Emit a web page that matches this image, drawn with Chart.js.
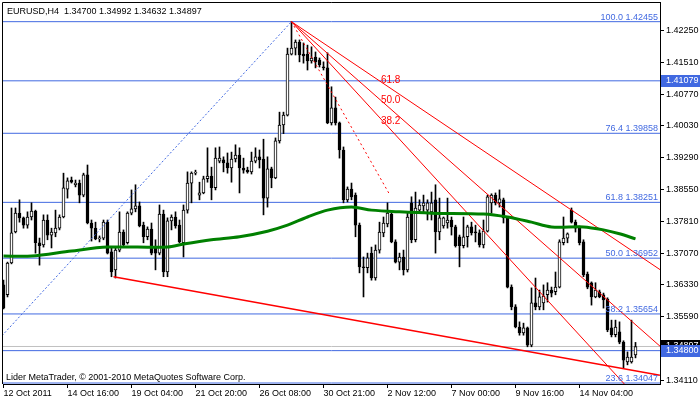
<!DOCTYPE html>
<html>
<head>
<meta charset="utf-8">
<script src="https://cdn.jsdelivr.net/npm/chart.js@4.4.1/dist/chart.umd.min.js"></script>
<style>
  html, body { margin: 0; padding: 0; background: #fff; }
  #c { display: block; }
</style>
</head>
<body>
<canvas id="c" width="700" height="402"></canvas>
<script>
// EURUSD H4 candles (bar index 0 = 12 Oct 2011 00:00)
var opens = [1.3633,1.3610,1.3684,1.3756,1.3800,1.3789,1.3772,1.3791,1.3805,1.3731,
  1.3726,1.3784,1.3749,1.3754,1.3765,1.3791,1.3856,1.3877,1.3866,1.3870,
  1.3842,1.3889,1.3777,1.3765,1.3740,1.3742,1.3779,1.3710,1.3668,1.3714,
  1.3756,1.3731,1.3800,1.3810,1.3817,1.3772,1.3745,1.3763,1.3721,1.3707,
  1.3798,1.3663,1.3782,1.3791,1.3772,1.3731,1.3807,1.3870,1.3893,1.3842,
  1.3847,1.3880,1.3886,1.3859,1.3921,1.3924,1.3917,1.3905,1.3926,1.3935,
  1.3905,1.3900,1.3896,1.3921,1.3931,1.3926,1.3835,1.3903,1.3882,1.3968,
  1.4005,1.4028,1.4170,1.4184,1.4198,1.4170,1.4170,1.4154,1.4163,1.4156,
  1.4140,1.4138,1.4010,1.4045,1.4010,1.3947,1.3831,1.3856,1.3842,1.3772,
  1.3675,1.3673,1.3707,1.3649,1.3714,1.3754,1.3775,1.3798,1.3733,1.3686,
  1.3698,1.3668,1.3824,1.3738,1.3807,1.3817,1.3807,1.3803,1.3831,1.3756,
  1.3770,1.3777,1.3784,1.3768,1.3745,1.3724,1.3745,1.3768,1.3756,1.3754,
  1.3726,1.3758,1.3824,1.3842,1.3824,1.3831,1.3789,1.3628,1.3582,1.3535,
  1.3521,1.3533,1.3493,1.3591,1.3582,1.3591,1.3610,1.3621,1.3617,1.3628,
  1.3731,1.3742,1.3807,1.3779,1.3765,1.3733,1.3658,1.3638,1.3605,1.3617,
  1.3610,1.3600,1.3533,1.3517,1.3524,1.3500,1.3454,1.3454,1.34700];
var highs = [1.3644,1.3686,1.3812,1.3812,1.3831,1.3791,1.3803,1.3824,1.3807,1.3742,
  1.3796,1.3796,1.3765,1.3807,1.3796,1.3893,1.3882,1.3884,1.3877,1.3877,
  1.3893,1.3912,1.3784,1.3779,1.3747,1.3784,1.3784,1.3719,1.3721,1.3803,
  1.3761,1.3803,1.3854,1.3866,1.3826,1.3779,1.3768,1.3777,1.3738,1.3819,
  1.3807,1.3789,1.3796,1.3803,1.3784,1.3819,1.3896,1.3896,1.3900,1.3872,
  1.3886,1.3952,1.3907,1.3952,1.3954,1.3931,1.3940,1.3942,1.3959,1.3952,
  1.3928,1.3907,1.3942,1.3952,1.3947,1.3972,1.3931,1.3907,1.3975,1.4035,
  1.4035,1.4184,1.42455,1.4203,1.4203,1.4196,1.4191,1.4187,1.4175,1.4161,
  1.4152,1.4173,1.4094,1.4070,1.4012,1.3954,1.3861,1.3870,1.3847,1.3777,
  1.3698,1.3707,1.3721,1.3726,1.3779,1.3791,1.3824,1.3803,1.3738,1.3707,
  1.3714,1.3800,1.3838,1.3849,1.3831,1.3842,1.3831,1.3849,1.3866,1.3835,
  1.3791,1.3835,1.3791,1.3772,1.3749,1.3791,1.3772,1.3779,1.3772,1.3761,
  1.3784,1.3842,1.3845,1.3847,1.3854,1.3835,1.3791,1.3633,1.3587,1.3547,
  1.3544,1.3535,1.3626,1.3649,1.3621,1.3633,1.3638,1.3628,1.3663,1.3738,
  1.3791,1.3754,1.3812,1.3784,1.3770,1.3738,1.3663,1.3640,1.3638,1.3621,
  1.3614,1.3603,1.3551,1.3551,1.3547,1.3503,1.3477,1.3551,1.34992];
var lows = [1.3577,1.3605,1.3682,1.3754,1.3779,1.3765,1.3765,1.3784,1.3707,1.3679,
  1.3721,1.3738,1.3719,1.3745,1.3761,1.3789,1.3835,1.3870,1.3861,1.3824,
  1.3838,1.3775,1.3735,1.3738,1.3733,1.3738,1.3705,1.3652,1.3649,1.3710,
  1.3721,1.3728,1.3796,1.3803,1.3768,1.3731,1.3738,1.3703,1.3668,1.3703,
  1.3652,1.3652,1.3761,1.3765,1.3731,1.3698,1.3800,1.3824,1.3889,1.3831,
  1.3845,1.3872,1.3831,1.3854,1.3917,1.3896,1.3893,1.3872,1.3919,1.3847,
  1.3893,1.3893,1.3891,1.3917,1.3905,1.3796,1.3814,1.3859,1.3880,1.3963,
  1.3985,1.4026,1.4168,1.4168,1.4152,1.4149,1.4133,1.4149,1.4138,1.4140,
  1.4133,1.4008,1.4005,1.4005,1.3928,1.3824,1.3826,1.3831,1.3745,1.3661,
  1.3605,1.3661,1.3644,1.3644,1.3707,1.3745,1.3768,1.3731,1.3684,1.3668,
  1.3656,1.3663,1.3731,1.3733,1.3800,1.3800,1.3784,1.3784,1.3707,1.3738,
  1.3765,1.3765,1.3749,1.3721,1.3675,1.3719,1.3721,1.3749,1.3733,1.3721,
  1.3719,1.3756,1.3800,1.3819,1.3814,1.3777,1.3626,1.3575,1.3533,1.3516,
  1.3516,1.3489,1.3489,1.3575,1.3575,1.3575,1.3593,1.3605,1.3610,1.3626,
  1.3726,1.3731,1.3777,1.3756,1.3726,1.3652,1.3624,1.3586,1.3603,1.3603,
  1.3579,1.3524,1.3512,1.3512,1.3496,1.3440,1.3447,1.3451,1.34632];
var closes = [1.3579,1.3684,1.3754,1.3800,1.3789,1.3772,1.3791,1.3805,1.3731,1.3724,
  1.3784,1.3749,1.3756,1.3765,1.3791,1.3859,1.3875,1.3872,1.3870,1.3842,
  1.3889,1.3777,1.3765,1.3740,1.3742,1.3779,1.3707,1.3663,1.3714,1.3756,
  1.3726,1.3800,1.3810,1.3817,1.3770,1.3745,1.3763,1.3707,1.3707,1.3798,
  1.3663,1.3782,1.3791,1.3770,1.3733,1.3807,1.3870,1.3893,1.3895,1.3847,
  1.3880,1.3886,1.3859,1.3928,1.3928,1.3917,1.3905,1.3926,1.3935,1.3905,
  1.3900,1.3896,1.3921,1.3931,1.3924,1.3835,1.3903,1.3882,1.3968,1.4005,
  1.4028,1.4170,1.4184,1.4198,1.4168,1.4166,1.4154,1.4161,1.4152,1.4145,
  1.4138,1.4010,1.4045,1.4010,1.3947,1.3831,1.3856,1.3838,1.3772,1.3675,
  1.3673,1.3696,1.3649,1.3714,1.3756,1.3777,1.3800,1.3733,1.3686,1.3698,
  1.3668,1.3791,1.3738,1.3812,1.3819,1.3824,1.3824,1.3824,1.3756,1.3789,
  1.3789,1.3784,1.3768,1.3724,1.3724,1.3745,1.3768,1.3754,1.3754,1.3726,
  1.3758,1.3838,1.3842,1.3824,1.3833,1.3789,1.3628,1.3582,1.3535,1.3521,
  1.3533,1.3493,1.3591,1.3582,1.3605,1.3607,1.3621,1.3614,1.3628,1.3733,
  1.3742,1.3752,1.3779,1.3765,1.3731,1.3656,1.3628,1.3605,1.3621,1.3605,
  1.3598,1.3528,1.3517,1.3535,1.3500,1.3458,1.3465,1.3465,1.34897];

var maIdx = [0, 7, 17, 26, 41, 45, 52, 59, 66, 71, 76, 81, 87, 92, 99, 107, 120, 126, 132, 137, 145, 150, 154, 158];
var maVal = [1.3700, 1.3700, 1.3712, 1.3721, 1.3721, 1.3728, 1.3738, 1.3745, 1.3758, 1.3772, 1.3791, 1.3807,
  1.3814, 1.3807, 1.3803, 1.3800, 1.3798, 1.3791, 1.3779, 1.3768, 1.3768, 1.3761, 1.3752, 1.3740];

// fibonacci retracement
var fibLevels = ['100.0', '76.4', '61.8', '50.0', '38.2', '23.6'];
var fibPrices = [1.42455, 1.39858, 1.38251, 1.36952, 1.35654, 1.34047];
var fibAnchorIdx = [-37, 72];
var fibAnchorPrice = [1.31450, 1.42455];

// fibonacci fan
var fanAnchorIdx = [72, 96.6];
var fanAnchorPrice = [1.42455, 1.38422];
var fanLevels = [61.8, 50.0, 38.2];

// lower trend line
var trendIdx = [27.5, 164.1];
var trendPrice = [1.3652, 1.3423];

// horizontal lines
var hLinePrices = [1.41079, 1.34800];
var bidPrice = 1.34897;

// axes
var yTicks = [1.42250, 1.41510, 1.40770, 1.40030, 1.39290, 1.38550, 1.37810, 1.37070, 1.36330, 1.35590, 1.34850, 1.34110];
var xTickIdx = [0, 16, 32, 48, 64, 80, 96, 112, 128, 144];
var xTickLabels = ['12 Oct 2011', '14 Oct 16:00', '19 Oct 04:00', '21 Oct 20:00', '26 Oct 08:00',
  '30 Oct 21:00', '2 Nov 12:00', '7 Nov 00:00', '9 Nov 16:00', '14 Nov 04:00'];

var X_MIN = -0.125, X_MAX = 164.125;
var Y_MIN = 1.34024, Y_MAX = 1.42913;
var FONT = "'Liberation Sans', Arial, sans-serif";
var BLUE = '#4169e1';
var RED = '#ff0000';

Chart.defaults.font.family = FONT;
Chart.defaults.font.size = 9;

var datasets = [];

datasets.push({
  type: 'line', order: 0,
  data: maIdx.map(function (x, k) { return { x: x, y: maVal[k] }; }),
  borderColor: '#008000', borderWidth: 3, pointRadius: 0, tension: 0.3
});

datasets.push({
  type: 'bar', order: 2, grouped: false,
  data: opens.map(function (o, i) { return { x: i, y: [o, closes[i]] }; }),
  backgroundColor: opens.map(function (o, i) { return closes[i] >= o ? '#ffffff' : '#000000'; }),
  borderColor: '#000', borderWidth: 1, borderSkipped: false,
  barThickness: 3, minBarLength: 1
});

datasets.push({
  type: 'bar', order: 3, grouped: false,
  data: lows.map(function (l, i) { return { x: i, y: [l, highs[i]] }; }),
  backgroundColor: '#000', borderWidth: 0, barThickness: 1
});

function seg(x0, y0, x1, y1, color, width, dash, order) {
  datasets.push({
    type: 'line', order: order,
    data: [{ x: x0, y: y0 }, { x: x1, y: y1 }],
    borderColor: color, borderWidth: width, borderDash: dash || [],
    pointRadius: 0, tension: 0
  });
}

fibPrices.forEach(function (p) { seg(X_MIN, p, X_MAX, p, BLUE, 1, null, 5); });
hLinePrices.forEach(function (p) { seg(X_MIN, p, X_MAX, p, BLUE, 1, null, 5); });
seg(X_MIN, bidPrice, X_MAX, bidPrice, '#c0c0c0', 1, null, 6);
seg(fibAnchorIdx[0], fibAnchorPrice[0], fibAnchorIdx[1], fibAnchorPrice[1], BLUE, 1, [2, 2], 1);
seg(fanAnchorIdx[0], fanAnchorPrice[0], fanAnchorIdx[1], fanAnchorPrice[1], RED, 1, [2, 3], 1);
fanLevels.forEach(function (f) {
  var p = fanAnchorPrice[1] + f / 100 * (fanAnchorPrice[0] - fanAnchorPrice[1]);
  var slope = (p - fanAnchorPrice[0]) / (fanAnchorIdx[1] - fanAnchorIdx[0]);
  seg(fanAnchorIdx[0], fanAnchorPrice[0], X_MAX, fanAnchorPrice[0] + slope * (X_MAX - fanAnchorIdx[0]), RED, 1, null, 1);
});
seg(trendIdx[0], trendPrice[0], trendIdx[1], trendPrice[1], RED, 1.5, null, 1);

var overlay = {
  id: 'overlay',
  afterDraw: function (chart) {
    var ctx = chart.ctx, a = chart.chartArea;
    var xs = chart.scales.x, ys = chart.scales.y;
    ctx.save();
    // frame
    ctx.strokeStyle = '#000';
    ctx.lineWidth = 1;
    ctx.beginPath();
    ctx.moveTo(a.left - 0.5, a.bottom);
    ctx.lineTo(a.left - 0.5, a.top + 0.5);
    ctx.lineTo(a.right, a.top + 0.5);
    ctx.stroke();

    ctx.font = '9px ' + FONT;
    ctx.textBaseline = 'alphabetic';
    ctx.fillStyle = '#000';
    ctx.textAlign = 'left';
    ctx.fillText('EURUSD,H4  1.34700 1.34992 1.34632 1.34897', 7, 14);
    ctx.fillText('Lider MetaTrader, \u00a9 2001-2010 MetaQuotes Software Corp.', 6, 380);

    // fib labels
    ctx.fillStyle = BLUE;
    ctx.textAlign = 'right';
    fibPrices.forEach(function (p, k) {
      var y = Math.round(ys.getPixelForValue(p));
      ctx.fillText(fibLevels[k] + ' ' + p.toFixed(5), a.right - 2, y - 2);
    });

    // fan labels
    ctx.fillStyle = RED;
    ctx.textAlign = 'left';
    ctx.font = '10px ' + FONT;
    fanLevels.forEach(function (f) {
      var p = fanAnchorPrice[1] + f / 100 * (fanAnchorPrice[0] - fanAnchorPrice[1]);
      ctx.fillText(f.toFixed(1), xs.getPixelForValue(fanAnchorIdx[1]) - 9, ys.getPixelForValue(p) - 5);
    });

    // price boxes on the axis
    ctx.font = '9px ' + FONT;
    function box(p, bg) {
      var y = Math.round(ys.getPixelForValue(p));
      ctx.fillStyle = bg;
      ctx.fillRect(a.right + 1, y - 6, chart.width - a.right - 1, 12);
      ctx.fillStyle = '#fff';
      ctx.textBaseline = 'middle';
      ctx.fillText(p.toFixed(5), a.right + 6, y);
    }
    box(bidPrice, '#000');
    box(hLinePrices[0], BLUE);
    box(hLinePrices[1], BLUE);
    ctx.restore();
  }
};

function noPad(s) {
  s.paddingTop = 0; s.paddingBottom = 0; s.paddingLeft = 0; s.paddingRight = 0;
}

new Chart(document.getElementById('c'), {
  type: 'bar',
  data: { datasets: datasets },
  options: {
    responsive: false,
    animation: false,
    devicePixelRatio: 1,
    layout: { padding: { left: 3, top: 2, right: 0, bottom: 0 } },
    plugins: { legend: { display: false }, tooltip: { enabled: false } },
    scales: {
      x: {
        type: 'linear', min: X_MIN, max: X_MAX, offset: false,
        grid: { drawOnChartArea: false, drawTicks: true, tickLength: 4, color: '#000', offset: false },
        border: { display: true, color: '#000' },
        ticks: {
          autoSkip: false, maxRotation: 0, align: 'start', padding: 0, color: '#000',
          callback: function (v) { var k = xTickIdx.indexOf(v); return k >= 0 ? xTickLabels[k] : ''; }
        },
        afterBuildTicks: function (s) { s.ticks = xTickIdx.map(function (v) { return { value: v }; }); },
        afterFit: function (s) { s.height = 18; noPad(s); }
      },
      y: {
        position: 'right', min: Y_MIN, max: Y_MAX,
        grid: { drawOnChartArea: false, drawTicks: true, tickLength: 4, color: '#000' },
        border: { display: true, color: '#000' },
        ticks: { padding: 2, color: '#000', autoSkip: false,
          callback: function (v) { return v.toFixed(5); } },
        afterBuildTicks: function (s) { s.ticks = yTicks.map(function (v) { return { value: v }; }); },
        afterFit: function (s) { s.width = 40; noPad(s); }
      }
    }
  },
  plugins: [overlay]
});
</script>
</body>
</html>
